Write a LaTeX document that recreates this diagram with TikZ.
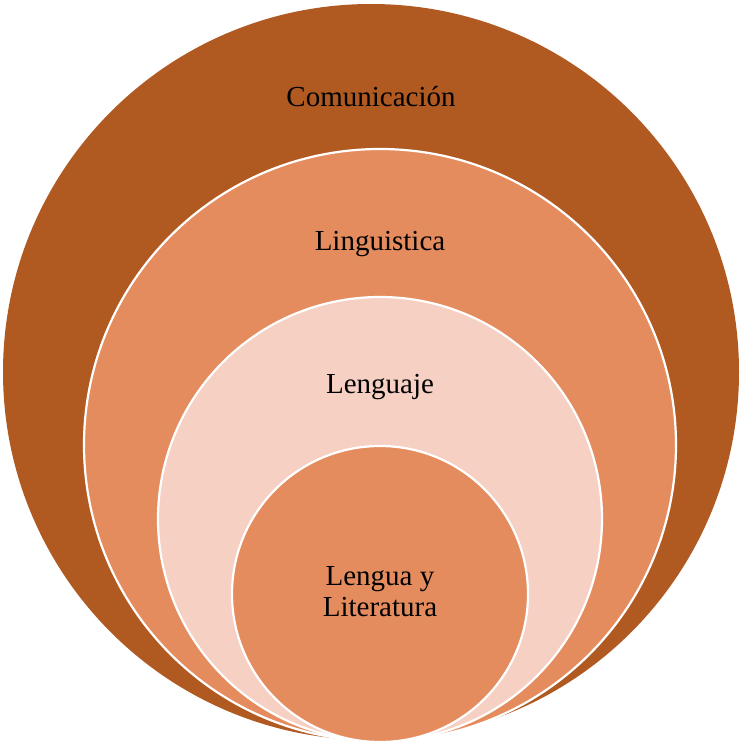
\documentclass[tikz,border=0pt]{standalone}
\usepackage{fontspec}
\setmainfont{Liberation Serif}
\definecolor{cbrown}{RGB}{176,90,34}
\definecolor{corange}{RGB}{229,140,95}
\definecolor{cpink}{RGB}{246,208,195}
\begin{document}
\begin{tikzpicture}[x=1pt,y=-1pt,
  ring/.style={draw=white,line width=2.2pt},
  lbl/.style={font=\fontsize{29}{31}\selectfont,anchor=base,align=center,inner sep=0pt}]
\useasboundingbox (0,0) rectangle (741,742);
\fill[cbrown] (371,372) circle (368);
\path[ring,fill=corange] (380,445) circle (296);
\path[ring,fill=cpink] (380,519) circle (222);
\path[ring,fill=corange] (380,594) circle (148);
\node[lbl] (c1) at (371,106) {Comunicación};
\node[lbl] (c2) at (380,250) {Linguistica};
\node[lbl] (c3) at (380,393) {Lenguaje};
\node[lbl,anchor=north] (c4) at (380,566) {Lengua y\\Literatura};
\end{tikzpicture}
\end{document}
